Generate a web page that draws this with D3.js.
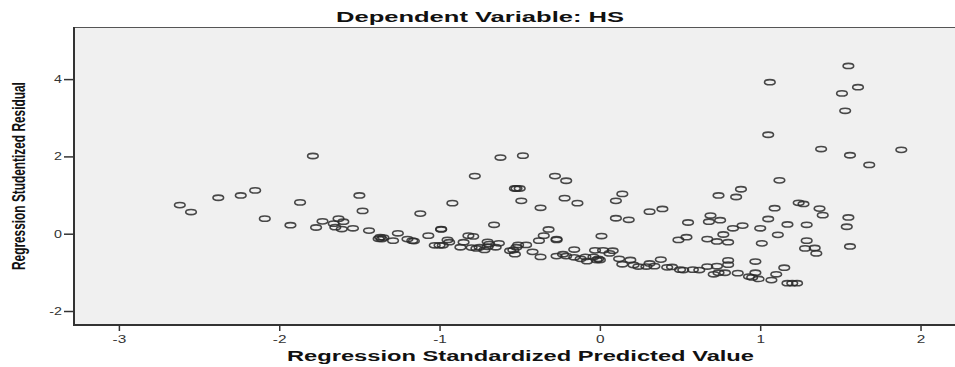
<!DOCTYPE html>
<html>
<head>
<meta charset="utf-8">
<script src="https://cdn.jsdelivr.net/npm/d3@7"></script>
<style>
  body { margin: 0; background: #fff; }
  #scatter text { font-family: "Liberation Sans", Arial, sans-serif; }
</style>
</head>
<body>
<div id="scatter"></div>
<script>
// standardized predicted value (x) and studentized residual (y)
const predicted = [
  -2.62, -2.55, -2.38, -2.24, -2.15, -2.09, -1.93, -1.87, -1.79, -1.77,
  -1.73, -1.66, -1.65, -1.63, -1.61, -1.60, -1.54, -1.50, -1.48, -1.44,
  -1.38, -1.37, -1.36, -1.35, -1.29, -1.26, -1.20, -1.17, -1.16, -1.12,
  -1.07, -1.03, -1.00, -0.98, -0.99, -0.99, -0.95, -0.94, -0.92, -0.87,
  -0.85, -0.82, -0.79, -0.80, -0.77, -0.75, -0.78, -0.72, -0.70, -0.70,
  -0.69, -0.65, -0.63, -0.66, -0.62, -0.48, -0.56, -0.53, -0.54, -0.51,
  -0.46, -0.52, -0.53, -0.52, -0.50, -0.49, -0.42, -0.37, -0.37, -0.38,
  -0.35, -0.32, -0.27, -0.27, -0.28, -0.21, -0.22, -0.14, -0.27, -0.23,
  -0.21, -0.16, -0.16, -0.12, -0.09, -0.08, -0.04, -0.02, -0.01, 0.00,
  -0.03, 0.02, 0.08, 0.01, 0.06, 0.10, 0.14, 0.10, 0.18, 0.12,
  0.19, 0.14, 0.21, 0.24, 0.29, 0.31, 0.31, 0.39, 0.34, 0.38,
  0.42, 0.45, 0.50, 0.52, 0.58, 0.62, 0.67, 0.71, 0.73, 0.74,
  0.78, 0.80, 0.80, 0.86, 0.93, 0.95, 0.97, 0.97, 0.99, 1.07,
  1.10, 1.15, 1.17, 1.20, 1.23, 0.55, 0.49, 0.54, 0.67, 0.73,
  0.80, 0.69, 0.68, 0.75, 0.74, 0.85, 0.88, 0.83, 0.89, 0.77,
  1.00, 1.05, 1.09, 1.11, 1.01, 1.12, 1.17, 1.24, 1.27, 1.37,
  1.39, 1.29, 1.29, 1.28, 1.34, 1.35, 1.55, 1.54, 1.56, 1.68,
  1.55, 1.06, 1.61, 1.51, 1.53, 1.05, 1.38, 1.56, 1.88
];
const residual = [
  0.74, 0.56, 0.93, 0.99, 1.12, 0.39, 0.22, 0.81, 2.01, 0.16,
  0.32, 0.26, 0.17, 0.39, 0.12, 0.31, 0.14, 0.99, 0.59, 0.08,
  -0.13, -0.09, -0.14, -0.10, -0.18, 0.01, -0.14, -0.18, -0.19, 0.52,
  -0.05, -0.30, -0.30, -0.30, 0.12, 0.11, -0.16, -0.22, 0.79, -0.35,
  -0.22, -0.05, -0.07, -0.36, -0.38, -0.35, 1.49, -0.42, -0.34, -0.21,
  -0.27, -0.35, -0.25, 0.23, 1.97, 2.02, -0.44, -0.53, -0.42, -0.29,
  -0.29, -0.35, 1.17, 1.17, 1.17, 0.85, -0.47, -0.60, 0.67, -0.18,
  -0.05, 0.11, -0.14, -0.16, 1.49, 1.37, 0.92, 0.79, -0.58, -0.53,
  -0.58, -0.41, -0.61, -0.65, -0.60, -0.71, -0.60, -0.68, -0.65, -0.68,
  -0.43, -0.43, -0.44, -0.06, -0.51, 0.85, 1.03, 0.40, 0.36, -0.65,
  -0.68, -0.79, -0.81, -0.85, -0.85, -0.77, 0.57, 0.64, -0.84, -0.67,
  -0.87, -0.86, -0.93, -0.94, -0.93, -0.94, -0.85, -1.05, -0.84, -1.01,
  -1.01, -0.69, -0.80, -1.02, -1.11, -1.13, -1.01, -0.72, -1.17, -1.20,
  -1.05, -0.88, -1.28, -1.28, -1.28, 0.29, -0.16, -0.09, -0.14, -0.20,
  -0.22, 0.47, 0.31, 0.35, 0.99, 0.95, 1.15, 0.14, 0.21, -0.02,
  0.14, 0.38, 0.66, -0.03, -0.25, 1.38, 0.24, 0.80, 0.77, 0.65,
  0.48, 0.23, -0.18, -0.38, -0.37, -0.51, 0.42, 0.18, -0.33, 1.78,
  4.34, 3.92, 3.79, 3.63, 3.18, 2.56, 2.19, 2.03, 2.17
];
const xTicks = [-3, -2, -1, 0, 1, 2];
const yTicks = [-2, 0, 2, 4];

const width = 955, height = 367;
const plot = { left: 74, right: 955, top: 27, bottom: 325 };

const svg = d3.select("#scatter").append("svg")
  .attr("width", width)
  .attr("height", height);

const x = d3.scaleLinear().domain([-3.28, 2.215]).range([plot.left, plot.right]);
const y = d3.scaleLinear().domain([-2.362, 5.348]).range([plot.bottom, plot.top]);

// plot background
svg.append("rect")
  .attr("x", plot.left).attr("y", plot.top)
  .attr("width", plot.right - plot.left).attr("height", plot.bottom - plot.top)
  .attr("fill", "#f0f0f0");

// frame: thin on top, heavier left and bottom
svg.append("line")
  .attr("x1", plot.left).attr("x2", plot.right)
  .attr("y1", plot.top + 0.5).attr("y2", plot.top + 0.5)
  .attr("stroke", "#555").attr("stroke-width", 1.2);

// axes (plain hyphen for negatives, like the original)
const xAxis = svg.append("g")
  .attr("transform", "translate(0," + plot.bottom + ")")
  .call(d3.axisBottom(x).tickValues(xTicks).tickSize(6).tickPadding(4).tickFormat(d => String(d)));

const yAxis = svg.append("g")
  .attr("transform", "translate(" + plot.left + ",0)")
  .call(d3.axisLeft(y).tickValues(yTicks).tickSize(10).tickPadding(2).tickFormat(d => String(d)));

[xAxis, yAxis].forEach(g => {
  g.select(".domain").remove();
  g.selectAll(".tick line").attr("stroke", "#333").attr("stroke-width", 1.5);
  g.selectAll(".tick text")
    .attr("fill", "#333")
    .style("font-size", "11px");
});
// the picture is stretched sideways, so the tick numbers are too
xAxis.selectAll(".tick text").attr("transform", "scale(1.4,1)");
yAxis.selectAll(".tick text").attr("x", -12 / 1.3).attr("transform", "scale(1.3,1)");

svg.append("line")
  .attr("x1", plot.left).attr("x2", plot.left)
  .attr("y1", plot.top).attr("y2", plot.bottom + 1)
  .attr("stroke", "#333").attr("stroke-width", 2);
svg.append("line")
  .attr("x1", plot.left).attr("x2", plot.right)
  .attr("y1", plot.bottom).attr("y2", plot.bottom)
  .attr("stroke", "#333").attr("stroke-width", 2);

// points
const points = predicted.map((p, i) => ({ p: p, r: residual[i] }));
svg.append("g")
  .selectAll("ellipse")
  .data(points)
  .enter()
  .append("ellipse")
  .attr("cx", d => x(d.p))
  .attr("cy", d => y(d.r))
  .attr("rx", 5.3)
  .attr("ry", 2.6)
  .attr("fill", "none")
  .attr("stroke", "#2a2a2a")
  .attr("stroke-opacity", 0.85)
  .attr("stroke-width", 1.6);

// titles
svg.append("text")
  .attr("x", 336).attr("y", 22)
  .attr("textLength", 288).attr("lengthAdjust", "spacingAndGlyphs")
  .style("font-size", "14.5px").style("font-weight", "bold")
  .attr("fill", "#111")
  .text("Dependent Variable: HS");

svg.append("text")
  .attr("x", 287).attr("y", 360.5)
  .attr("textLength", 467).attr("lengthAdjust", "spacingAndGlyphs")
  .style("font-size", "14px").style("font-weight", "bold")
  .attr("fill", "#111")
  .text("Regression Standardized Predicted Value");

// y title is condensed in the original: squeeze it to 188px along its run
const yTitle = svg.append("text")
  .attr("x", 0).attr("y", 0)
  .style("font-size", "17.5px").style("font-weight", "bold")
  .attr("fill", "#111")
  .text("Regression Studentized Residual");
const squeeze = 188 / yTitle.node().getComputedTextLength();
yTitle.attr("transform", "translate(25,270) rotate(-90) scale(" + squeeze + ",1)");
</script>
</body>
</html>
